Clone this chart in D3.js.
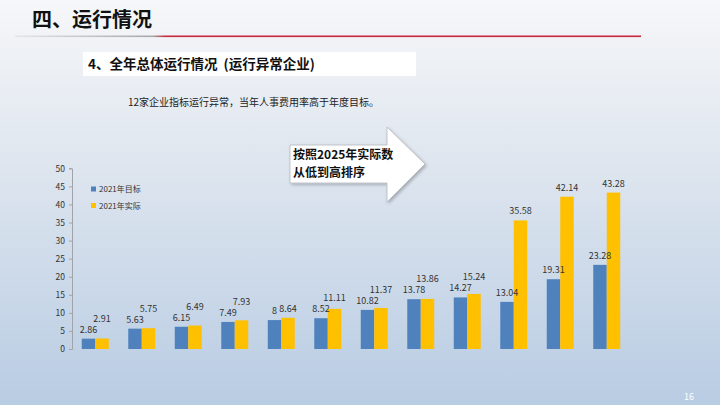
<!DOCTYPE html>
<html>
<head>
<meta charset="utf-8">
<script src="https://cdn.jsdelivr.net/npm/d3@7"></script>
<style>
  html, body { margin: 0; padding: 0; }
  body { width: 720px; height: 405px; overflow: hidden; }
  text { font-family: "Noto Sans CJK SC", "Noto Sans", sans-serif; }
</style>
</head>
<body>
<svg id="slide" width="720" height="405"></svg>
<script>
var seriesNames = ['2021年目标', '2021年实际'];
var target2021 = [2.86, 5.63, 6.15, 7.49, 8, 8.52, 10.82, 13.78, 14.27, 13.04, 19.31, 23.28];
var actual2021 = [2.91, 5.75, 6.49, 7.93, 8.64, 11.11, 11.37, 13.86, 15.24, 35.58, 42.14, 43.28];
var yTicks = [0, 5, 10, 15, 20, 25, 30, 35, 40, 45, 50];

var blue = '#4f81bd';
var yellow = '#ffc000';
var label_color = '#333';

var svg = d3.select('#slide');

// slide background
var defs = svg.append('defs');
var bg = defs.append('linearGradient')
  .attr('id', 'bg-grad')
  .attr('x1', 0).attr('y1', 0).attr('x2', 0).attr('y2', 1);
bg.append('stop').attr('offset', '0%').attr('stop-color', '#f6f7f9');
bg.append('stop').attr('offset', '35%').attr('stop-color', '#e2e8f0');
bg.append('stop').attr('offset', '100%').attr('stop-color', '#b8cce3');

var rule = defs.append('linearGradient')
  .attr('id', 'rule-grad')
  .attr('x1', 0).attr('y1', 0).attr('x2', 1).attr('y2', 0);
rule.append('stop').attr('offset', '0%').attr('stop-color', '#e4e6ea');
rule.append('stop').attr('offset', '22%').attr('stop-color', '#a8a8ac');
rule.append('stop').attr('offset', '24%').attr('stop-color', '#c8283c');
rule.append('stop').attr('offset', '100%').attr('stop-color', '#c8283c');

var shadow = defs.append('filter').attr('id', 'arrow-shadow')
  .attr('x', '-10%').attr('y', '-10%').attr('width', '130%').attr('height', '140%');
shadow.append('feDropShadow')
  .attr('dx', 1.5).attr('dy', 1.5).attr('stdDeviation', 1.5)
  .attr('flood-color', '#000').attr('flood-opacity', 0.25);

svg.append('rect')
  .attr('width', 720).attr('height', 405)
  .attr('fill', 'url(#bg-grad)');

// heading
svg.append('text')
  .attr('x', 32).attr('y', 27)
  .style('font-size', '20px')
  .style('font-weight', 700)
  .attr('fill', '#111')
  .text('四、运行情况');

svg.append('rect')
  .attr('x', 15).attr('y', 35.5)
  .attr('width', 626).attr('height', 1.6)
  .attr('fill', 'url(#rule-grad)');

// sub heading box
svg.append('rect')
  .attr('x', 83).attr('y', 52)
  .attr('width', 333).attr('height', 24)
  .attr('fill', '#fff');

svg.append('text')
  .attr('x', 88).attr('y', 69)
  .style('font-size', '13.5px')
  .style('font-weight', 700)
  .style('white-space', 'pre')
  .attr('fill', '#111')
  .text('4、全年总体运行情况  (运行异常企业)');

svg.append('text')
  .attr('x', 128).attr('y', 106)
  .style('font-size', '10px')
  .attr('fill', '#222')
  .text('12家企业指标运行异常，当年人事费用率高于年度目标。');

// block arrow note
var arrow_pts = [[290, 145], [387, 145], [387, 127], [425, 164], [387, 202], [387, 183], [290, 183]];
svg.append('path')
  .attr('d', d3.line()(arrow_pts) + 'Z')
  .attr('fill', '#fff')
  .attr('stroke', '#b4b8bf')
  .attr('stroke-width', 0.8)
  .attr('filter', 'url(#arrow-shadow)');

svg.append('text')
  .attr('x', 293).attr('y', 158.5)
  .style('font-size', '12px')
  .style('font-weight', 700)
  .attr('fill', '#111')
  .text('按照2025年实际数');
svg.append('text')
  .attr('x', 293).attr('y', 176.5)
  .style('font-size', '12px')
  .style('font-weight', 700)
  .attr('fill', '#111')
  .text('从低到高排序');

// chart
var x = d3.scaleBand()
  .domain(d3.range(target2021.length))
  .range([72, 630])
  .paddingInner(0.42)
  .paddingOuter(0.21);

var x_inner = d3.scaleBand()
  .domain([0, 1])
  .range([0, x.bandwidth()]);

var y = d3.scaleLinear()
  .domain([0, 50])
  .range([349, 168.3]);

var y_axis = svg.append('g')
  .attr('class', 'y-axis')
  .attr('transform', 'translate(72,0)')
  .call(d3.axisLeft(y).tickValues(yTicks).tickSize(3).tickPadding(4));

y_axis.select('.domain').attr('stroke', '#a0a4aa');
y_axis.selectAll('.tick line').attr('stroke', '#a0a4aa');
y_axis.selectAll('.tick text')
  .style('font-size', '8.5px')
  .attr('fill', label_color);

var series = [target2021, actual2021];
var colors = [blue, yellow];

series.forEach(function(vals, s){
  svg.append('g')
    .attr('class', 'bars-' + s)
    .selectAll('rect')
    .data(vals)
    .enter()
    .append('rect')
    .attr('x', function(d, i){ return x(i) + x_inner(s); })
    .attr('y', function(d){ return y(d); })
    .attr('width', x_inner.bandwidth())
    .attr('height', function(d){ return y(0) - y(d); })
    .attr('fill', colors[s]);
});

// value labels; the actual label is lifted when it would sit on the target label
var label_size = 9;
function label_width(v){ return String(v).length * label_size * 0.55; }

var label_rows = target2021.map(function(t, i){
  var cx_t = x(i) + x_inner(0) + x_inner.bandwidth() / 2;
  var cx_a = x(i) + x_inner(1) + x_inner.bandwidth() / 2;
  var y_t = y(t) - 6;
  var y_a = y(actual2021[i]) - 6;
  var gap_x = (cx_a - cx_t) - (label_width(t) + label_width(actual2021[i])) / 2;
  if (gap_x < 0 && Math.abs(y_a - y_t) < label_size + 1) {
    y_a = y_t - (label_size + 2);
  }
  return [{v: t, x: cx_t, y: y_t}, {v: actual2021[i], x: cx_a, y: y_a}];
});

svg.append('g')
  .attr('class', 'value-labels')
  .selectAll('text')
  .data(d3.merge(label_rows))
  .enter()
  .append('text')
  .attr('x', function(d){ return d.x; })
  .attr('y', function(d){ return d.y; })
  .attr('text-anchor', 'middle')
  .style('font-size', label_size + 'px')
  .attr('fill', label_color)
  .text(function(d){ return d.v; });

// legend
var legend = svg.append('g')
  .attr('class', 'legend')
  .selectAll('g')
  .data(seriesNames)
  .enter()
  .append('g')
  .attr('transform', function(d, i){ return 'translate(91,' + (189 + i * 16.5) + ')'; });

legend.append('rect')
  .attr('x', 0).attr('y', -2.5)
  .attr('width', 5).attr('height', 5)
  .attr('fill', function(d, i){ return colors[i]; });

legend.append('text')
  .attr('x', 8).attr('y', 3)
  .style('font-size', '8px')
  .attr('fill', label_color)
  .text(function(d){ return d; });

// page number
svg.append('text')
  .attr('x', 684).attr('y', 400)
  .style('font-size', '9px')
  .attr('fill', '#ffffff')
  .text('16');
</script>
</body>
</html>
